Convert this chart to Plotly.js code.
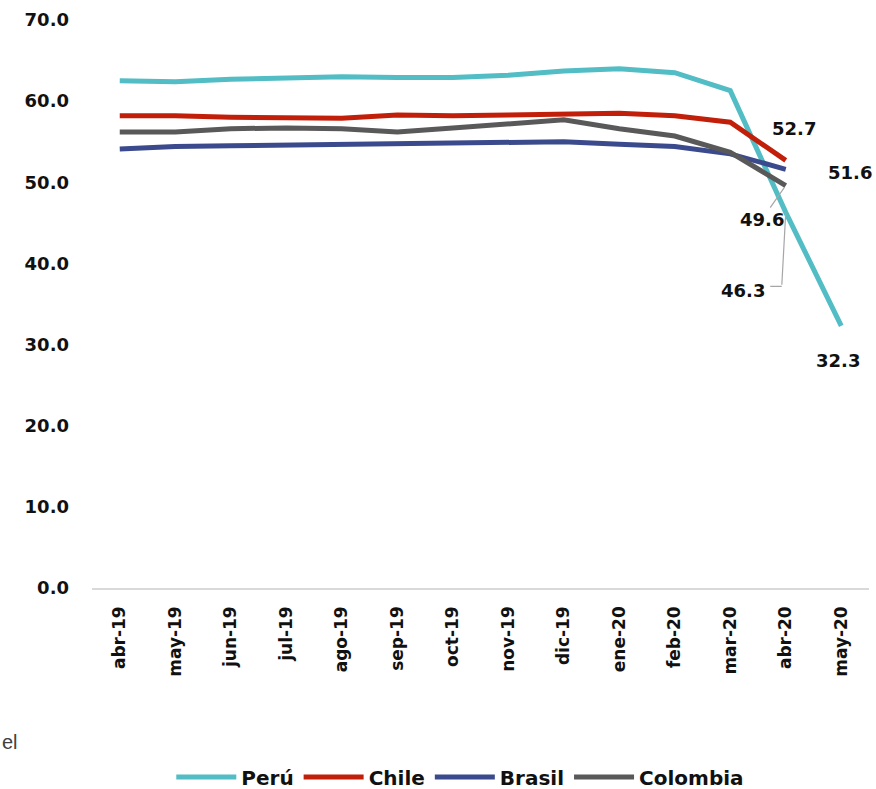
<!DOCTYPE html>
<html>
<head>
<meta charset="utf-8">
<script src="https://cdn.plot.ly/plotly-3.0.1.min.js"></script>
<style>html,body{margin:0;padding:0;background:#fff}#chart{width:876px;height:789px}</style>
</head>
<body>
<div id="chart"></div>
<script>
const months = ['abr-19','may-19','jun-19','jul-19','ago-19','sep-19','oct-19','nov-19','dic-19','ene-20','feb-20','mar-20','abr-20','may-20'];
const peru     = [62.5, 62.4, 62.7, 62.8, 63.0, 62.9, 62.9, 63.2, 63.7, 64.0, 63.5, 61.3, 46.3, 32.3];
const chile    = [58.2, 58.2, 58.0, 57.9, 57.9, 58.3, 58.2, 58.3, 58.4, 58.5, 58.2, 57.4, 52.7, null];
const brasil   = [54.1, 54.4, 54.5, 54.6, 54.6, 54.7, 54.8, 55.0, 55.0, 54.7, 54.4, 53.5, 51.6, null];
const colombia = [56.2, 56.2, 56.6, 56.7, 56.6, 56.2, 56.7, 57.2, 57.7, 56.6, 55.7, 53.7, 49.6, null];
const yTicks = [0, 10, 20, 30, 40, 50, 60, 70];

const FONT = 'DejaVu Sans, sans-serif';

function tr(name, y, color) {
  return {x: months, y: y, name: name, type: 'scatter', mode: 'lines',
    line: {color: color, width: 5}, connectgaps: false, hoverinfo: 'skip'};
}
const data = [
  tr('Perú', peru, '#52bdc4'),
  tr('Chile', chile, '#c21f0a'),
  tr('Brasil', brasil, '#3b4a8c'),
  tr('Colombia', colombia, '#595959')
];

const lf = {family: FONT, size: 18, color: '#111', weight: 'bold'};
const last = 12;
const annotations = [
  {x: months[last], y: chile[last], text: chile[last].toFixed(1), showarrow: false, xshift: 8, yshift: 32, font: lf},
  {x: months[last], y: brasil[last], text: brasil[last].toFixed(1), showarrow: false, xshift: 64, yshift: -3, font: lf},
  {x: months[last], y: colombia[last], text: colombia[last].toFixed(1), showarrow: true, arrowhead: 0, arrowwidth: 1.2,
    arrowcolor: '#a6a6a6', ax: -24, ay: 34, font: lf, standoff: 2},
  {x: months[last], y: peru[last], text: '', showarrow: true, arrowhead: 0, arrowwidth: 1.2, arrowcolor: '#a6a6a6', ax: -4, ay: 74, standoff: 0},
  {x: months[last], y: peru[last], text: '', showarrow: true, arrowhead: 0, arrowwidth: 1.2, arrowcolor: '#a6a6a6', ax: -13, ay: 0, xshift: -4, yshift: -74, standoff: 0},
  {x: months[last], y: peru[last], text: peru[last].toFixed(1), showarrow: false, xshift: -43, yshift: -78, font: lf},
  {x: months[13], y: peru[13], text: peru[13].toFixed(1), showarrow: false, xshift: -3, yshift: -35, font: lf},
  {xref: 'paper', yref: 'paper', x: -92/777, y: (789-742-201)/568, xanchor: 'left', yanchor: 'middle',
    text: 'el', showarrow: false, font: {family: 'Liberation Sans, sans-serif', size: 20, color: '#404040'}}
];

const layout = {
  width: 876, height: 789,
  margin: {l: 92, r: 7, t: 20, b: 201, autoexpand: false},
  paper_bgcolor: '#fff', plot_bgcolor: '#fff',
  showlegend: true,
  legend: {orientation: 'h', x: 0.474, xanchor: 'center', y: (789-777-201)/568, yanchor: 'middle',
    font: {family: FONT, size: 20, color: '#111', weight: 'bold'}, itemwidth: 60, tracegroupgap: 0},
  xaxis: {type: 'category', range: [-0.5, 13.5], showgrid: false, zeroline: false, automargin: false,
    showline: true, linecolor: '#d9d9d9', linewidth: 1.5, ticks: '', tickangle: -90,
    ticklabelstandoff: 10,
    tickfont: {family: FONT, size: 17, color: '#111', weight: 'bold'}},
  yaxis: {range: [0, 70], tickvals: yTicks, ticktext: yTicks.map(v => v.toFixed(1)), automargin: false,
    showgrid: false, zeroline: false, showline: false, ticks: '', ticklabelstandoff: 22,
    tickfont: {family: FONT, size: 18, color: '#111', weight: 'bold'}},
  annotations: annotations
};

Plotly.newPlot('chart', data, layout, {displayModeBar: false, staticPlot: true});
</script>
</body>
</html>
